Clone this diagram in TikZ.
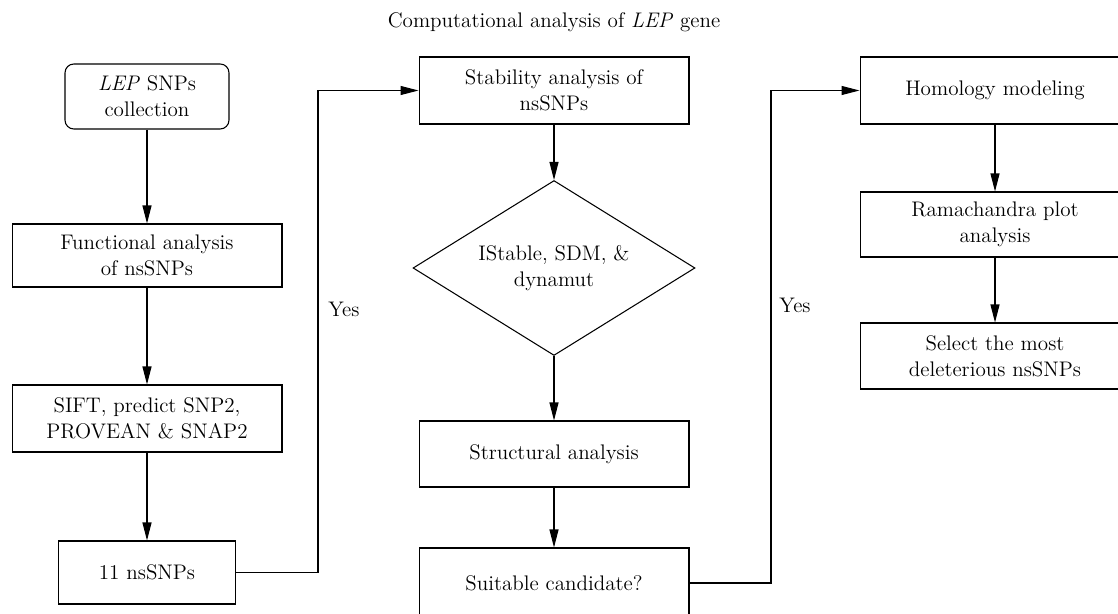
\documentclass[tikz,border=0pt]{standalone}
\usetikzlibrary{shapes.geometric,arrows.meta}

\tikzset{
  stepbox/.style={draw, line width=0.6pt, align=center, minimum width=5.4cm, minimum height=1.3cm, inner sep=2pt},
  startbox/.style={stepbox, rounded corners=5pt, minimum width=3.28cm},
  testbox/.style={draw, line width=0.6pt, diamond, aspect=1.58, align=center, minimum width=5.64cm, minimum height=3.5cm, inner sep=0pt},
  flow/.style={->, line width=0.6pt},
  every node/.style={font=\fontsize{12}{15}\selectfont}
}

\begin{document}
\begin{tikzpicture}[x=0.02cm, y=-0.02cm, >={Triangle[length=3.6mm,width=1.8mm]}]
  \useasboundingbox (0,0) rectangle (1118,614);

  \node (title) at (554,22) {Computational analysis of \textit{LEP} gene};

  % left column
  \node[startbox] (lep) at (147,96.5) {\textit{LEP} SNPs\\collection};
  \node[stepbox, minimum height=1.26cm] (func) at (147,255.5) {Functional analysis\\of nsSNPs};
  \node[stepbox, minimum height=1.34cm] (sift) at (147,418.5) {SIFT, predict SNP2,\\PROVEAN \& SNAP2};
  \node[stepbox, minimum width=3.54cm, minimum height=1.26cm] (nine) at (147,572.5) {11 nsSNPs};

  % middle column
  \node[stepbox, minimum height=1.34cm] (stab) at (554,90.5) {Stability analysis of\\nsSNPs};
  \node[testbox] (tools) at (554,268) {IStable, SDM, \&\\dynamut};
  \node[stepbox, minimum height=1.32cm] (struct) at (554,454) {Structural analysis};
  \node[stepbox, minimum height=1.4cm] (suit) at (554,583) {Suitable candidate?};

  % right column
  \node[stepbox, minimum height=1.34cm] (homol) at (995,90.5) {Homology modeling};
  \node[stepbox, minimum height=1.3cm] (rama) at (995,224.5) {Ramachandra plot\\analysis};
  \node[stepbox, minimum height=1.32cm] (sel) at (995,356) {Select the most\\deleterious nsSNPs};

  \coordinate (bendA) at (318,0);
  \coordinate (bendB) at (771,0);

  \draw[flow] (lep) -- (func);
  \draw[flow] (func) -- (sift);
  \draw[flow] (sift) -- (nine);
  \draw[flow] (nine.east) -| (bendA |- stab.west) -- (stab.west);
  \node (yesA) at (344,309) {Yes};

  \draw[flow] (stab) -- (tools);
  \draw[flow] (tools) -- (struct);
  \draw[flow] (struct) -- (suit);
  \draw[flow] (suit.east) -| (bendB |- homol.west) -- (homol.west);
  \node (yesB) at (795,305) {Yes};

  \draw[flow] (homol) -- (rama);
  \draw[flow] (rama) -- (sel);
\end{tikzpicture}
\end{document}
